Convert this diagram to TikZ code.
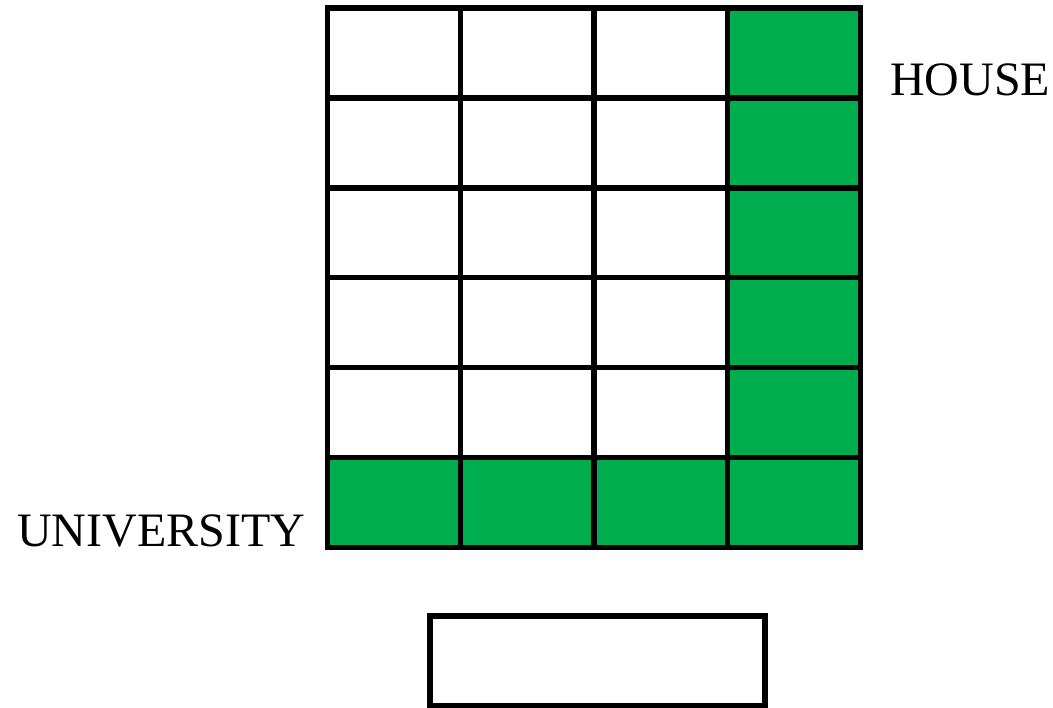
\documentclass[tikz,border=0pt]{standalone}
\usepackage{fontspec}
\setmainfont{Liberation Serif}
\definecolor{wegfarbe}{HTML}{00AD4E}
\tikzset{
  weg/.style={fill=wegfarbe},
  linie/.style={black,line width=4.1pt},
  ort/.style={font=\fontsize{36}{40}\selectfont,inner sep=0pt,anchor=base west},
}

\begin{document}
\begin{tikzpicture}[x=0.75pt,y=-0.75pt]
  \useasboundingbox (0,0) rectangle (1053,707);
  % green route
  \foreach \r in {0,...,4}
    \fill[weg] (727.9,8+89.92*\r) rectangle ++(133.25,89.92);
  \foreach \c in {0,...,3}
    \fill[weg] (327.5+133.25*\c,457.6) rectangle ++(133.25,89.92);
  % grid
  \foreach \c in {1,...,3}
    \draw[linie] (327.5+133.25*\c,8) -- (327.5+133.25*\c,547.5);
  \foreach \r in {1,...,5}
    \draw[linie] (327.5,8+89.92*\r) -- (860.5,8+89.92*\r);
  \draw[linie] (327.5,8) rectangle (860.5,547.5);
  \node[ort] (house) at (890,95) {HOUSE};
  \node[ort] (university) at (17,546.5) {UNIVERSITY};
  \draw[linie] (430,616) rectangle (765,705.5);
\end{tikzpicture}
\end{document}
